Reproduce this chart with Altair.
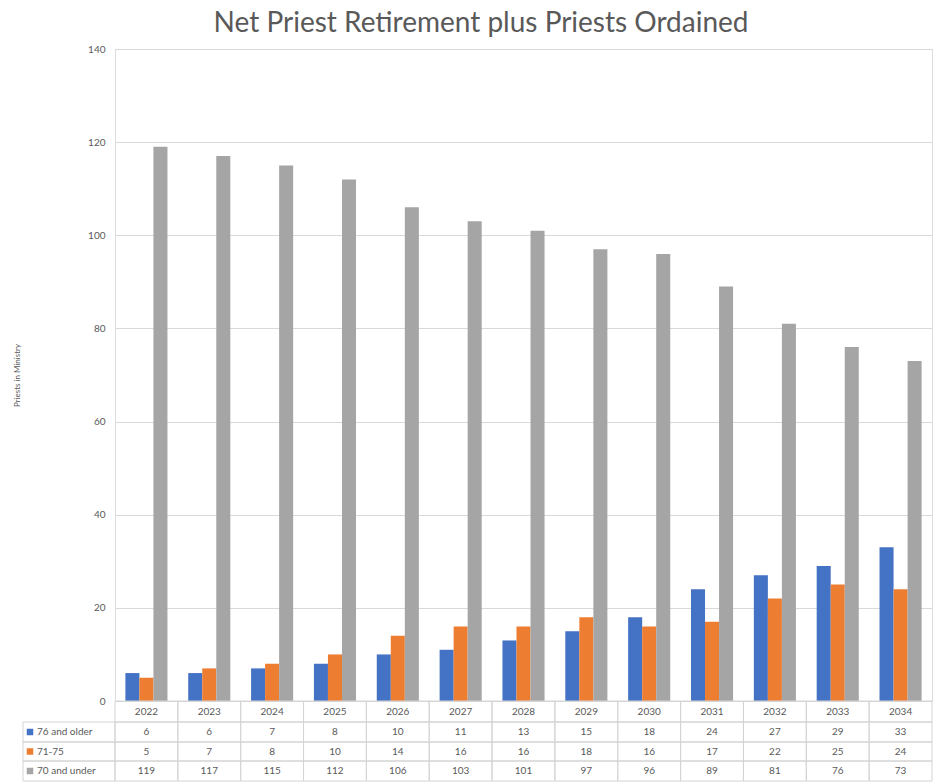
import altair as alt
import pandas as pd

years = [2022, 2023, 2024, 2025, 2026, 2027, 2028, 2029, 2030, 2031, 2032, 2033, 2034]
series = ["76 and older", "71-75", "70 and under"]
older_76 = [6, 6, 7, 8, 10, 11, 13, 15, 18, 24, 27, 29, 33]
age_71_75 = [5, 7, 8, 10, 14, 16, 16, 18, 16, 17, 22, 25, 24]
under_70 = [119, 117, 115, 112, 106, 103, 101, 97, 96, 89, 81, 76, 73]
colors = ["#4472C4", "#ED7D31", "#A5A5A5"]
y_ticks = [0, 20, 40, 60, 80, 100, 120, 140]

year_labels = [str(y) for y in years]
records = []
for i, yr in enumerate(year_labels):
    for s, vals in zip(series, [older_76, age_71_75, under_70]):
        records.append({"year": yr, "series": s, "value": vals[i]})
df = pd.DataFrame(records)
years_df = pd.DataFrame({"year": year_labels})
legend_df = pd.DataFrame({"series": series})

W, H = 817, 652
FONT = "Lato"
TXT = "#595959"
BORDER = "#d4d4d4"

xscale = alt.Scale(domain=year_labels, paddingInner=0, paddingOuter=0)
cscale = alt.Scale(domain=series, range=colors)

bars = alt.Chart(df).mark_bar().encode(
    x=alt.X("year:N", scale=xscale, axis=None),
    xOffset=alt.XOffset("series:N", scale=alt.Scale(domain=series, paddingInner=0, paddingOuter=0.74)),
    y=alt.Y("value:Q", scale=alt.Scale(domain=[0, 140]),
            axis=alt.Axis(values=y_ticks, title="Priests in Ministry", grid=True,
                          gridColor="#d9d9d9", domain=False, ticks=False,
                          labelColor=TXT, labelFontSize=10, labelPadding=10, labelFont=FONT,
                          titleColor=TXT, titleFontSize=8, titleFontWeight="normal",
                          titleFont=FONT, titlePadding=66)),
    color=alt.Color("series:N", scale=cscale, legend=None),
)

row_bounds = [(673, 693), (693, 712), (712, 732)]

layers = [bars]
# header row
layers.append(alt.Chart(years_df).mark_rect(fillOpacity=0, stroke=BORDER, strokeWidth=1).encode(
    x=alt.X("year:N", scale=xscale, axis=None), y=alt.value(652), y2=alt.value(673)))
layers.append(alt.Chart(years_df).mark_text(font=FONT, fontSize=10, color=TXT, baseline="middle").encode(
    x=alt.X("year:N", scale=xscale, axis=None), y=alt.value(662.5), text="year:N"))

for s, (top, bot) in zip(series, row_bounds):
    mid = (top + bot) / 2
    sub = alt.Chart(df).transform_filter(alt.datum.series == s)
    layers.append(sub.mark_rect(fillOpacity=0, stroke=BORDER, strokeWidth=1).encode(
        x=alt.X("year:N", scale=xscale, axis=None), y=alt.value(top), y2=alt.value(bot)))
    layers.append(sub.mark_text(font=FONT, fontSize=10, color=TXT, baseline="middle").encode(
        x=alt.X("year:N", scale=xscale, axis=None), y=alt.value(mid), text="value:Q"))
    lsub = alt.Chart(legend_df).transform_filter(alt.datum.series == s)
    layers.append(lsub.mark_rect(fillOpacity=0, stroke=BORDER, strokeWidth=1).encode(
        x=alt.value(-92), x2=alt.value(0), y=alt.value(top), y2=alt.value(bot)))
    layers.append(lsub.mark_square(size=42, opacity=1).encode(
        x=alt.value(-85), y=alt.value(mid),
        color=alt.Color("series:N", scale=cscale, legend=None)))
    layers.append(lsub.mark_text(font=FONT, fontSize=10, color=TXT, baseline="middle", align="left").encode(
        x=alt.value(-78), y=alt.value(mid), text="series:N"))

chart = alt.layer(*layers).properties(
    width=W, height=H,
    title=alt.TitleParams("Net Priest Retirement plus Priests Ordained", font=FONT, fontSize=28,
                          fontWeight="normal", color=TXT, anchor="middle", frame="bounds",
                          offset=6, dx=8),
    padding={"top": 2, "left": 5, "right": 0, "bottom": 0},
).configure_view(stroke=None).configure(background="white")

chart.save("out.html", embed_options={"renderer": "svg", "actions": False})
